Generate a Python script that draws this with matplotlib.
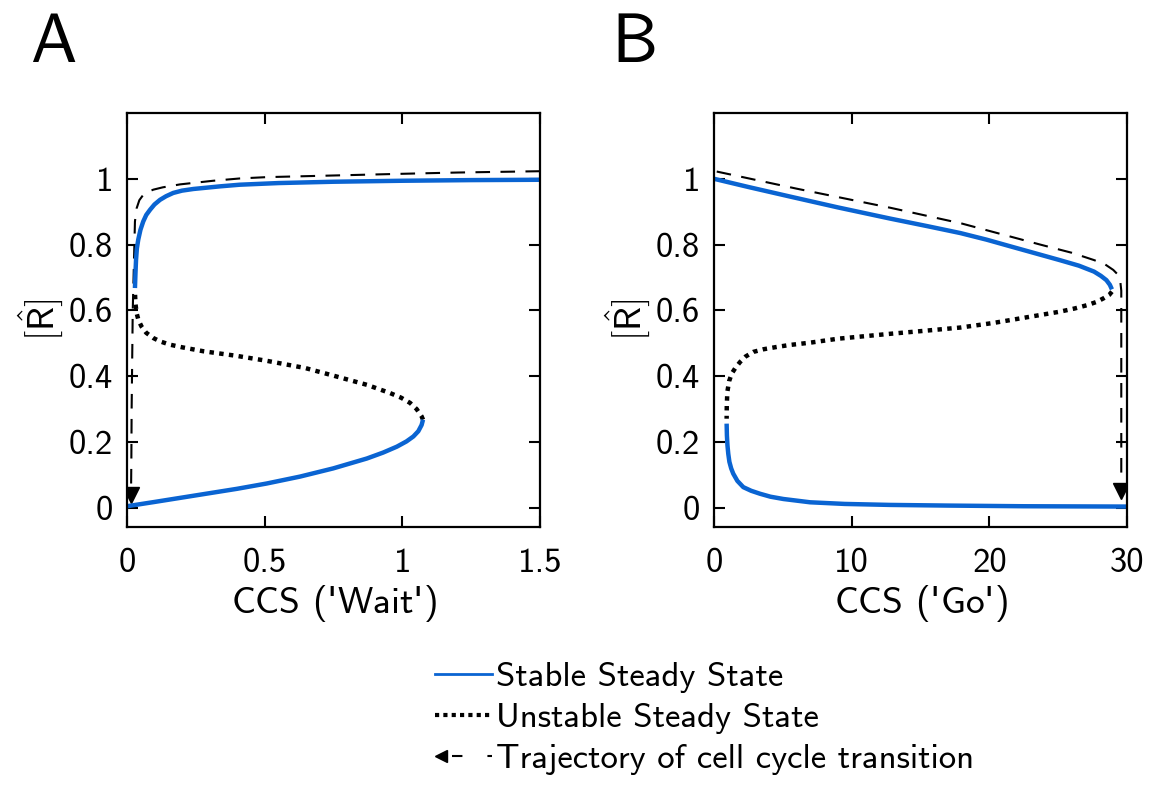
import matplotlib
matplotlib.use("Agg")
import matplotlib.pyplot as plt
from matplotlib.lines import Line2D
from matplotlib.legend_handler import HandlerBase

plt.rcParams['font.family'] = ['cmss10', 'DejaVu Sans']
plt.rcParams['mathtext.fontset'] = 'cm'
plt.rcParams['axes.unicode_minus'] = False

BLUE = '#0a64d2'

# ---- panel A : CCS ('Wait') ----
a_lo_x = [0.0, 0.1, 0.265, 0.4, 0.507, 0.628, 0.749, 0.871, 0.93, 0.98, 1.015, 1.04, 1.058, 1.07, 1.075]
a_lo_y = [0.005, 0.018, 0.04, 0.058, 0.074, 0.095, 0.12, 0.15, 0.168, 0.186, 0.202, 0.217, 0.233, 0.252, 0.268]
a_un_x = [1.075, 1.07, 1.052, 1.028, 0.995, 0.955, 0.871, 0.749, 0.647, 0.507, 0.398, 0.277, 0.2, 0.156,
          0.12, 0.096, 0.07, 0.053, 0.042, 0.035, 0.031, 0.029]
a_un_y = [0.268, 0.278, 0.3, 0.319, 0.335, 0.349, 0.374, 0.402, 0.425, 0.447, 0.462, 0.476, 0.488, 0.496,
          0.506, 0.516, 0.532, 0.551, 0.57, 0.592, 0.62, 0.655]
a_hi_x = [0.029, 0.031, 0.033, 0.036, 0.041, 0.049, 0.059, 0.07, 0.084, 0.1, 0.12, 0.142, 0.168, 0.2,
          0.241, 0.338, 0.41, 0.55, 0.749, 1.0, 1.25, 1.5]
a_hi_y = [0.668, 0.715, 0.754, 0.788, 0.815, 0.845, 0.87, 0.89, 0.906, 0.922, 0.936, 0.947, 0.957, 0.964,
          0.969, 0.977, 0.982, 0.987, 0.991, 0.994, 0.996, 0.997]
a_tr_x = [1.5, 1.2, 0.992, 0.75, 0.507, 0.41, 0.313, 0.193, 0.13, 0.096, 0.075, 0.059, 0.045, 0.035,
          0.029, 0.027, 0.024, 0.021, 0.019, 0.017, 0.016, 0.015]
a_tr_y = [1.023, 1.019, 1.015, 1.01, 1.005, 1.001, 0.994, 0.983, 0.974, 0.967, 0.96, 0.951, 0.935, 0.91,
          0.87, 0.8, 0.7, 0.6, 0.45, 0.3, 0.15, 0.06]

# ---- panel B : CCS ('Go') ----
b_hi_x = [0.0, 2.5, 5.52, 9.0, 12.8, 15.5, 17.9, 19.8, 21.5, 23.3, 25.1, 26.5, 27.6, 28.1, 28.5, 28.75, 28.9]
b_hi_y = [1.0, 0.975, 0.946, 0.913, 0.879, 0.856, 0.835, 0.815, 0.795, 0.774, 0.753, 0.736, 0.718, 0.705, 0.692,
          0.678, 0.664]
b_un_x = [28.9, 28.7, 28.3, 27.8, 27.1, 26.2, 25.1, 22.7, 20.3, 17.9, 15.0, 12.8, 9.0, 6.98, 5.5, 4.56,
          3.6, 2.86, 2.3, 1.89, 1.55, 1.29, 1.1, 0.97, 0.93, 0.92]
b_un_y = [0.657, 0.647, 0.637, 0.626, 0.616, 0.606, 0.596, 0.579, 0.562, 0.548, 0.537, 0.529, 0.514, 0.502, 0.495,
          0.489, 0.482, 0.474, 0.46, 0.443, 0.425, 0.408, 0.385, 0.352, 0.31, 0.271]
b_lo_x = [0.92, 0.94, 0.98, 1.04, 1.12, 1.25, 1.4, 1.7, 2.13, 2.7, 3.34, 4.1, 5.04, 6.98, 9.5, 12.8,
          17.0, 22.5, 30.0]
b_lo_y = [0.256, 0.22, 0.19, 0.164, 0.14, 0.12, 0.104, 0.082, 0.063, 0.052, 0.043, 0.034, 0.027, 0.017, 0.012,
          0.009, 0.007, 0.005, 0.004]
b_tr_x = [0.2, 6.0, 12.8, 18.0, 23.7, 26.0, 27.6, 28.4, 29.0, 29.35, 29.5, 29.58, 29.58, 29.58, 29.58]
b_tr_y = [1.022, 0.97, 0.912, 0.864, 0.8, 0.775, 0.753, 0.74, 0.723, 0.708, 0.692, 0.66, 0.5, 0.3, 0.07]

yticks = [0, 0.2, 0.4, 0.6, 0.8, 1]
ytick_labels = ['0', '0.2', '0.4', '0.6', '0.8', '1']
a_xticks = [0, 0.5, 1, 1.5]
a_xtick_labels = ['0', '0.5', '1', '1.5']
b_xticks = [0, 10, 20, 30]
b_xtick_labels = ['0', '10', '20', '30']
legend_labels = ['Stable Steady State', 'Unstable Steady State', 'Trajectory of cell cycle transition']


class TrajHandler(HandlerBase):
    def create_artists(self, legend, orig, xd, yd, w, h, fontsize, trans):
        y = -yd + h / 2
        x0 = -xd
        dash = Line2D([x0 + 0.3 * w, x0 + w], [y, y], color='k', lw=1.5,
                      dashes=(5, 12), transform=trans)
        head = Line2D([x0 + 0.1 * w], [y], marker='<', ms=9, color='k',
                      ls='none', transform=trans)
        return [dash, head]


fig = plt.figure(figsize=(11.51, 7.85), dpi=100)
ax1 = fig.add_axes([0.1103, 0.3287, 0.3589, 0.5274])
ax2 = fig.add_axes([0.6203, 0.3287, 0.3589, 0.5274])

panels = [
    (ax1, a_lo_x, a_lo_y, a_un_x, a_un_y, a_hi_x, a_hi_y, a_tr_x, a_tr_y,
     (0, 1.5), a_xticks, a_xtick_labels, r"CCS ($\text{'}$Wait$\text{'}$)"),
    (ax2, b_lo_x, b_lo_y, b_un_x, b_un_y, b_hi_x, b_hi_y, b_tr_x, b_tr_y,
     (0, 30), b_xticks, b_xtick_labels, r"CCS ($\text{'}$Go$\text{'}$)"),
]

for (ax, lx, ly, ux, uy, hx, hy, tx, ty, xl, xt, xtl, xlab) in panels:
    ax.plot(tx, ty, color='k', lw=1.5, dashes=(7, 5))
    ax.plot(tx[-1], ty[-1] - 0.02, marker='v', ms=11, color='k', ls='none')
    ax.plot(ux, uy, color='k', lw=3.2, ls=(0, (1, 1.2)))
    ax.plot(lx, ly, color=BLUE, lw=3.2, solid_capstyle='butt')
    ax.plot(hx, hy, color=BLUE, lw=3.2, solid_capstyle='butt')
    ax.set_xlim(*xl)
    ax.set_ylim(-0.058, 1.2)
    ax.set_xticks(xt)
    ax.set_xticklabels(xtl)
    ax.set_yticks(yticks)
    ax.set_yticklabels(ytick_labels)
    ax.tick_params(direction='in', length=8, width=1.5, top=True, right=True,
                   labelsize=25)
    ax.tick_params(axis='x', pad=15)
    ax.tick_params(axis='y', pad=10)
    for s in ax.spines.values():
        s.set_linewidth(1.6)
    ax.set_xlabel(xlab, fontsize=27, labelpad=3, math_fontfamily='dejavusans')
    ax.set_ylabel(r'$[\hat{\mathsf{R}}]$', fontsize=27, labelpad=3)

fig.text(0.026, 0.921, 'A', fontsize=50, va='baseline')
fig.text(0.531, 0.921, 'B', fontsize=50, va='baseline')

traj_handle = Line2D([], [], color='k')
handles = [
    Line2D([], [], color=BLUE, lw=2),
    Line2D([], [], color='k', lw=3, ls=(0, (1, 1))),
    traj_handle,
]
fig.legend(handles, legend_labels, loc='center left', bbox_to_anchor=(0.378, 0.085),
           frameon=False, fontsize=25, handlelength=1.65, handletextpad=0.1,
           labelspacing=0.28, borderpad=0, borderaxespad=0,
           handler_map={traj_handle: TrajHandler()})

fig.savefig('out.png', dpi=100)
